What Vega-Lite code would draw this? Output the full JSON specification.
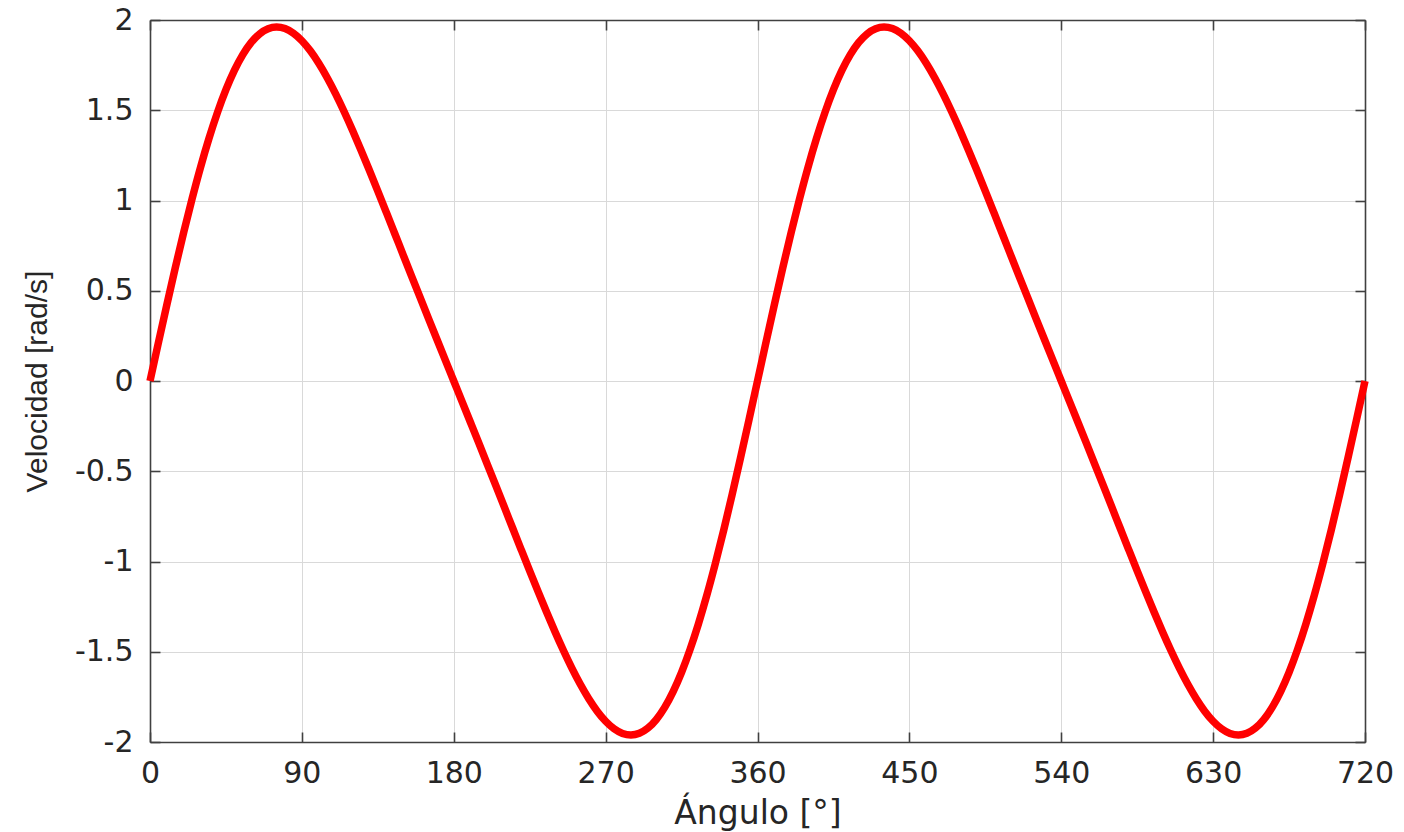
{
  "$schema": "https://vega.github.io/schema/vega-lite/v6.json",
  "width": 1215,
  "height": 722,
  "autosize": {"type": "none"},
  "padding": {"left": 150, "top": 20, "right": 39, "bottom": 90},
  "background": "white",
  "config": {
    "view": {"stroke": null},
    "axis": {
      "domainColor": "#404040",
      "domainWidth": 1.6,
      "tickColor": "#404040",
      "tickWidth": 1.6,
      "tickSize": -10,
      "gridColor": "#d9d9d9",
      "gridWidth": 1,
      "labelFont": "DejaVu Sans",
      "labelFontSize": 30,
      "labelColor": "#262626",
      "titleColor": "#262626",
      "titleFontWeight": "normal"
    }
  },
  "data": {
    "values": [
      {"angulo": 0, "velocidad": 0},
      {"angulo": 5, "velocidad": 0.2131},
      {"angulo": 10, "velocidad": 0.4234},
      {"angulo": 15, "velocidad": 0.6283},
      {"angulo": 20, "velocidad": 0.8253},
      {"angulo": 25, "velocidad": 1.0118},
      {"angulo": 30, "velocidad": 1.1858},
      {"angulo": 35, "velocidad": 1.3452},
      {"angulo": 40, "velocidad": 1.4883},
      {"angulo": 45, "velocidad": 1.6138},
      {"angulo": 50, "velocidad": 1.7206},
      {"angulo": 55, "velocidad": 1.8081},
      {"angulo": 60, "velocidad": 1.8757},
      {"angulo": 65, "velocidad": 1.9236},
      {"angulo": 70, "velocidad": 1.9519},
      {"angulo": 75, "velocidad": 1.9612},
      {"angulo": 80, "velocidad": 1.9524},
      {"angulo": 85, "velocidad": 1.9266},
      {"angulo": 90, "velocidad": 1.885},
      {"angulo": 95, "velocidad": 1.829},
      {"angulo": 100, "velocidad": 1.7603},
      {"angulo": 105, "velocidad": 1.6803},
      {"angulo": 110, "velocidad": 1.5908},
      {"angulo": 115, "velocidad": 1.4932},
      {"angulo": 120, "velocidad": 1.3892},
      {"angulo": 125, "velocidad": 1.2801},
      {"angulo": 130, "velocidad": 1.1674},
      {"angulo": 135, "velocidad": 1.052},
      {"angulo": 140, "velocidad": 0.935},
      {"angulo": 145, "velocidad": 0.8172},
      {"angulo": 150, "velocidad": 0.6992},
      {"angulo": 155, "velocidad": 0.5815},
      {"angulo": 160, "velocidad": 0.4642},
      {"angulo": 165, "velocidad": 0.3474},
      {"angulo": 170, "velocidad": 0.2313},
      {"angulo": 175, "velocidad": 0.1155},
      {"angulo": 180, "velocidad": 0},
      {"angulo": 185, "velocidad": -0.1155},
      {"angulo": 190, "velocidad": -0.2313},
      {"angulo": 195, "velocidad": -0.3474},
      {"angulo": 200, "velocidad": -0.4642},
      {"angulo": 205, "velocidad": -0.5815},
      {"angulo": 210, "velocidad": -0.6992},
      {"angulo": 215, "velocidad": -0.8172},
      {"angulo": 220, "velocidad": -0.935},
      {"angulo": 225, "velocidad": -1.052},
      {"angulo": 230, "velocidad": -1.1674},
      {"angulo": 235, "velocidad": -1.2801},
      {"angulo": 240, "velocidad": -1.3892},
      {"angulo": 245, "velocidad": -1.4932},
      {"angulo": 250, "velocidad": -1.5908},
      {"angulo": 255, "velocidad": -1.6803},
      {"angulo": 260, "velocidad": -1.7603},
      {"angulo": 265, "velocidad": -1.829},
      {"angulo": 270, "velocidad": -1.885},
      {"angulo": 275, "velocidad": -1.9266},
      {"angulo": 280, "velocidad": -1.9524},
      {"angulo": 285, "velocidad": -1.9612},
      {"angulo": 290, "velocidad": -1.9519},
      {"angulo": 295, "velocidad": -1.9236},
      {"angulo": 300, "velocidad": -1.8757},
      {"angulo": 305, "velocidad": -1.8081},
      {"angulo": 310, "velocidad": -1.7206},
      {"angulo": 315, "velocidad": -1.6138},
      {"angulo": 320, "velocidad": -1.4883},
      {"angulo": 325, "velocidad": -1.3452},
      {"angulo": 330, "velocidad": -1.1858},
      {"angulo": 335, "velocidad": -1.0118},
      {"angulo": 340, "velocidad": -0.8253},
      {"angulo": 345, "velocidad": -0.6283},
      {"angulo": 350, "velocidad": -0.4234},
      {"angulo": 355, "velocidad": -0.2131},
      {"angulo": 360, "velocidad": 0},
      {"angulo": 365, "velocidad": 0.2131},
      {"angulo": 370, "velocidad": 0.4234},
      {"angulo": 375, "velocidad": 0.6283},
      {"angulo": 380, "velocidad": 0.8253},
      {"angulo": 385, "velocidad": 1.0118},
      {"angulo": 390, "velocidad": 1.1858},
      {"angulo": 395, "velocidad": 1.3452},
      {"angulo": 400, "velocidad": 1.4883},
      {"angulo": 405, "velocidad": 1.6138},
      {"angulo": 410, "velocidad": 1.7206},
      {"angulo": 415, "velocidad": 1.8081},
      {"angulo": 420, "velocidad": 1.8757},
      {"angulo": 425, "velocidad": 1.9236},
      {"angulo": 430, "velocidad": 1.9519},
      {"angulo": 435, "velocidad": 1.9612},
      {"angulo": 440, "velocidad": 1.9524},
      {"angulo": 445, "velocidad": 1.9266},
      {"angulo": 450, "velocidad": 1.885},
      {"angulo": 455, "velocidad": 1.829},
      {"angulo": 460, "velocidad": 1.7603},
      {"angulo": 465, "velocidad": 1.6803},
      {"angulo": 470, "velocidad": 1.5908},
      {"angulo": 475, "velocidad": 1.4932},
      {"angulo": 480, "velocidad": 1.3892},
      {"angulo": 485, "velocidad": 1.2801},
      {"angulo": 490, "velocidad": 1.1674},
      {"angulo": 495, "velocidad": 1.052},
      {"angulo": 500, "velocidad": 0.935},
      {"angulo": 505, "velocidad": 0.8172},
      {"angulo": 510, "velocidad": 0.6992},
      {"angulo": 515, "velocidad": 0.5815},
      {"angulo": 520, "velocidad": 0.4642},
      {"angulo": 525, "velocidad": 0.3474},
      {"angulo": 530, "velocidad": 0.2313},
      {"angulo": 535, "velocidad": 0.1155},
      {"angulo": 540, "velocidad": 0},
      {"angulo": 545, "velocidad": -0.1155},
      {"angulo": 550, "velocidad": -0.2313},
      {"angulo": 555, "velocidad": -0.3474},
      {"angulo": 560, "velocidad": -0.4642},
      {"angulo": 565, "velocidad": -0.5815},
      {"angulo": 570, "velocidad": -0.6992},
      {"angulo": 575, "velocidad": -0.8172},
      {"angulo": 580, "velocidad": -0.935},
      {"angulo": 585, "velocidad": -1.052},
      {"angulo": 590, "velocidad": -1.1674},
      {"angulo": 595, "velocidad": -1.2801},
      {"angulo": 600, "velocidad": -1.3892},
      {"angulo": 605, "velocidad": -1.4932},
      {"angulo": 610, "velocidad": -1.5908},
      {"angulo": 615, "velocidad": -1.6803},
      {"angulo": 620, "velocidad": -1.7603},
      {"angulo": 625, "velocidad": -1.829},
      {"angulo": 630, "velocidad": -1.885},
      {"angulo": 635, "velocidad": -1.9266},
      {"angulo": 640, "velocidad": -1.9524},
      {"angulo": 645, "velocidad": -1.9612},
      {"angulo": 650, "velocidad": -1.9519},
      {"angulo": 655, "velocidad": -1.9236},
      {"angulo": 660, "velocidad": -1.8757},
      {"angulo": 665, "velocidad": -1.8081},
      {"angulo": 670, "velocidad": -1.7206},
      {"angulo": 675, "velocidad": -1.6138},
      {"angulo": 680, "velocidad": -1.4883},
      {"angulo": 685, "velocidad": -1.3452},
      {"angulo": 690, "velocidad": -1.1858},
      {"angulo": 695, "velocidad": -1.0118},
      {"angulo": 700, "velocidad": -0.8253},
      {"angulo": 705, "velocidad": -0.6283},
      {"angulo": 710, "velocidad": -0.4234},
      {"angulo": 715, "velocidad": -0.2131},
      {"angulo": 720, "velocidad": 0}
    ]
  },
  "layer": [
    {
      "mark": {"type": "line", "strokeOpacity": 0},
      "encoding": {
        "x": {
          "field": "angulo", "type": "quantitative",
          "scale": {"domain": [0, 720], "nice": false, "zero": false},
          "axis": {"orient": "top", "labels": false, "grid": false, "title": null,
                   "values": [0, 90, 180, 270, 360, 450, 540, 630, 720]}
        },
        "y": {
          "field": "velocidad", "type": "quantitative",
          "scale": {"domain": [-2, 2], "nice": false},
          "axis": {"orient": "right", "labels": false, "grid": false, "title": null,
                   "values": [-2, -1.5, -1, -0.5, 0, 0.5, 1, 1.5, 2]}
        }
      }
    },
    {
      "mark": {"type": "line", "color": "#ff0000", "strokeWidth": 7.5, "interpolate": "monotone", "strokeCap": "butt", "strokeJoin": "round"},
      "encoding": {
        "x": {
          "field": "angulo", "type": "quantitative",
          "scale": {"domain": [0, 720], "nice": false, "zero": false},
          "axis": {
            "orient": "bottom", "grid": true,
            "values": [0, 90, 180, 270, 360, 450, 540, 630, 720],
            "labelExpr": "toString(datum.value)",
            "labelPadding": 26,
            "labelFlush": false,
            "title": "Ángulo [°]",
            "titleFont": "DejaVu Sans",
            "titleFontSize": 33,
            "titleBaseline": "alphabetic",
            "titleY": 81
          }
        },
        "y": {
          "field": "velocidad", "type": "quantitative",
          "scale": {"domain": [-2, 2], "nice": false},
          "axis": {
            "orient": "left", "grid": true,
            "values": [-2, -1.5, -1, -0.5, 0, 0.5, 1, 1.5, 2],
            "labelExpr": "toString(datum.value)",
            "labelPadding": 27,
            "labelFlush": false,
            "title": "Velocidad [rad/s]",
            "titleFont": "Liberation Sans",
            "titleFontSize": 30,
            "titleBaseline": "alphabetic",
            "titleX": -104
          }
        }
      }
    }
  ]
}
